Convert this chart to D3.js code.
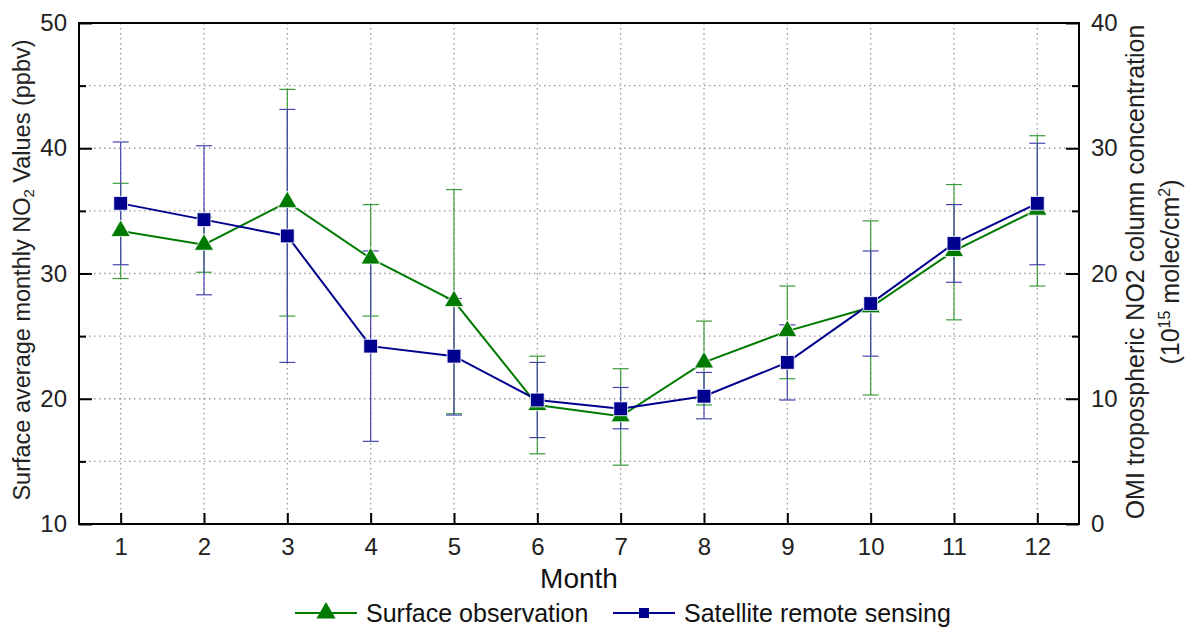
<!DOCTYPE html>
<html>
<head>
<meta charset="utf-8">
<script src="https://cdn.jsdelivr.net/npm/d3@7"></script>
<style>
  body { margin: 0; background: #fff; }
  svg { display: block; font-family: "Liberation Sans", Arial, sans-serif; }
</style>
</head>
<body>
<div id="chart"></div>
<script>
// months on the x axis
const months = [1, 2, 3, 4, 5, 6, 7, 8, 9, 10, 11, 12];

// surface observation (ppbv, left axis): mean, upper, lower
const surfMean = [33.4, 32.3, 35.7, 31.2, 27.8, 19.5, 18.6, 22.9, 25.4, 27.3, 31.8, 35.1];
const surfHigh = [37.2, 34.5, 44.7, 35.5, 36.7, 23.4, 22.4, 26.2, 29.0, 34.2, 37.1, 41.0];
const surfLow  = [29.6, 30.1, 26.6, 26.6, 18.8, 15.6, 14.7, 19.5, 21.6, 20.3, 26.3, 29.0];

// satellite (10^15 molec/cm2, right axis): mean, upper, lower
const satMean = [25.6, 24.3, 23.0, 14.2, 13.4, 9.9, 9.2, 10.2, 12.9, 17.6, 22.4, 25.6];
const satHigh = [30.5, 30.2, 33.1, 21.8, 18.0, 12.9, 10.9, 12.1, 15.9, 21.8, 25.5, 30.4];
const satLow  = [20.7, 18.3, 12.9, 6.6, 8.7, 6.9, 7.6, 8.4, 9.9, 13.4, 19.3, 20.7];

const leftTicks = [10, 20, 30, 40, 50];
const rightTicks = [0, 10, 20, 30, 40];

const W = 1204, H = 629;
const m = {left: 79, right: 1079, top: 23, bottom: 524};

const svg = d3.select('#chart').append('svg').attr('width', W).attr('height', H);

const x = d3.scaleLinear().domain([0.5, 12.5]).range([m.left, m.right]);
const yL = d3.scaleLinear().domain([10, 50]).range([m.bottom, m.top]);
const yR = d3.scaleLinear().domain([0, 40]).range([m.bottom, m.top]);

const green = '#007a00', blue = '#00008f';
const greenErr = '#3c9c3c', blueErr = '#4646b0';

// grid
const grid = svg.append('g').attr('stroke', '#999').attr('stroke-width', 1.3)
  .attr('stroke-dasharray', '1.5,3.5');
grid.selectAll('.vg').data(months).join('line')
  .attr('x1', d => x(d)).attr('x2', d => x(d)).attr('y1', m.top).attr('y2', m.bottom);
grid.selectAll('.hg').data(d3.range(15, 50, 5)).join('line')
  .attr('x1', m.left).attr('x2', m.right).attr('y1', d => yL(d)).attr('y2', d => yL(d));

// axes (ticks inward)
const axL = svg.append('g').attr('transform', `translate(${m.left},0)`)
  .call(d3.axisLeft(yL).tickValues(leftTicks).tickSize(-13).tickPadding(12));
const axLm = svg.append('g').attr('transform', `translate(${m.left},0)`)
  .call(d3.axisLeft(yL).tickValues([15, 25, 35, 45]).tickSize(-7).tickFormat(''));
const axR = svg.append('g').attr('transform', `translate(${m.right},0)`)
  .call(d3.axisRight(yR).tickValues(rightTicks).tickSize(-13).tickPadding(12));
const axRm = svg.append('g').attr('transform', `translate(${m.right},0)`)
  .call(d3.axisRight(yR).tickValues([5, 15, 25, 35]).tickSize(-7).tickFormat(''));
const axB = svg.append('g').attr('transform', `translate(0,${m.bottom})`)
  .call(d3.axisBottom(x).tickValues(months).tickSize(-11).tickPadding(14).tickFormat(d3.format('d')));

[axL, axLm, axR, axRm, axB].forEach(a => {
  a.select('.domain').remove();
  a.selectAll('line').attr('stroke', '#000').attr('stroke-width', 2);
  a.selectAll('text').attr('font-size', 24).attr('fill', '#222')
    .attr('font-family', '"Liberation Sans", Arial, sans-serif');
});

// frame
svg.append('rect').attr('x', m.left).attr('y', m.top)
  .attr('width', m.right - m.left).attr('height', m.bottom - m.top)
  .attr('fill', 'none').attr('stroke', '#000').attr('stroke-width', 2);

// error bars
function errBars(high, low, scale, color) {
  const g = svg.append('g').attr('stroke', color).attr('stroke-width', 1.2);
  months.forEach((mo, i) => {
    const cx = x(mo);
    g.append('line').attr('x1', cx).attr('x2', cx).attr('y1', scale(high[i])).attr('y2', scale(low[i]));
    g.append('line').attr('x1', cx - 8).attr('x2', cx + 8).attr('y1', scale(high[i])).attr('y2', scale(high[i]));
    g.append('line').attr('x1', cx - 8).attr('x2', cx + 8).attr('y1', scale(low[i])).attr('y2', scale(low[i]));
  });
}
errBars(surfHigh, surfLow, yL, greenErr);
errBars(satHigh, satLow, yR, blueErr);

// lines
const lineL = d3.line().x((d, i) => x(months[i])).y(d => yL(d));
const lineR = d3.line().x((d, i) => x(months[i])).y(d => yR(d));
svg.append('path').datum(surfMean).attr('d', lineL).attr('fill', 'none')
  .attr('stroke', green).attr('stroke-width', 2);
svg.append('path').datum(satMean).attr('d', lineR).attr('fill', 'none')
  .attr('stroke', blue).attr('stroke-width', 2);

// markers
const tri = d3.symbol().type(d3.symbolTriangle).size(160);
const sq = d3.symbol().type(d3.symbolSquare).size(190);
svg.append('g').selectAll('path').data(surfMean).join('path')
  .attr('d', tri).attr('transform', (d, i) => `translate(${x(months[i])},${yL(d)})`)
  .attr('fill', green).attr('stroke', '#fff').attr('stroke-width', 0.8);
svg.append('g').selectAll('path').data(satMean).join('path')
  .attr('d', sq).attr('transform', (d, i) => `translate(${x(months[i])},${yR(d)})`)
  .attr('fill', blue).attr('stroke', '#fff').attr('stroke-width', 0.8);

// axis titles
const lt = svg.append('text').attr('transform', `translate(30,270) rotate(-90)`)
  .attr('text-anchor', 'middle').attr('font-size', 23.5).attr('fill', '#222');
lt.append('tspan').text('Surface average monthly NO');
lt.append('tspan').attr('font-size', 15).attr('dy', 4).text('2');
lt.append('tspan').attr('dy', -4).text(' Values (ppbv)');

svg.append('text').attr('transform', `translate(1144,272) rotate(-90)`)
  .attr('text-anchor', 'middle').attr('font-size', 25).attr('fill', '#222')
  .text('OMI tropospheric NO2 column concentration');
const rt = svg.append('text').attr('transform', `translate(1179,272) rotate(-90)`)
  .attr('text-anchor', 'middle').attr('font-size', 25).attr('fill', '#222');
rt.append('tspan').text('(10');
rt.append('tspan').attr('font-size', 16).attr('dy', -9).text('15');
rt.append('tspan').attr('dy', 9).text(' molec/cm');
rt.append('tspan').attr('font-size', 16).attr('dy', -9).text('2');
rt.append('tspan').attr('dy', 9).text(')');

svg.append('text').attr('x', 579).attr('y', 588).attr('text-anchor', 'middle')
  .attr('font-size', 28).attr('fill', '#111').text('Month');

// legend
const legendItems = [
  {label: 'Surface observation', color: green, sym: tri, x0: 295},
  {label: 'Satellite remote sensing', color: blue, sym: d3.symbol().type(d3.symbolSquare).size(100), x0: 613}
];
const lg = svg.append('g');
legendItems.forEach(it => {
  const ly = 613;
  lg.append('line').attr('x1', it.x0).attr('x2', it.x0 + 62).attr('y1', ly).attr('y2', ly)
    .attr('stroke', it.color).attr('stroke-width', 2);
  lg.append('path').attr('d', it.sym).attr('transform', `translate(${it.x0 + 31},${ly})`)
    .attr('fill', it.color);
  lg.append('text').attr('x', it.x0 + 71).attr('y', ly + 9).attr('font-size', 25)
    .attr('fill', '#111').text(it.label);
});
</script>
</body>
</html>
